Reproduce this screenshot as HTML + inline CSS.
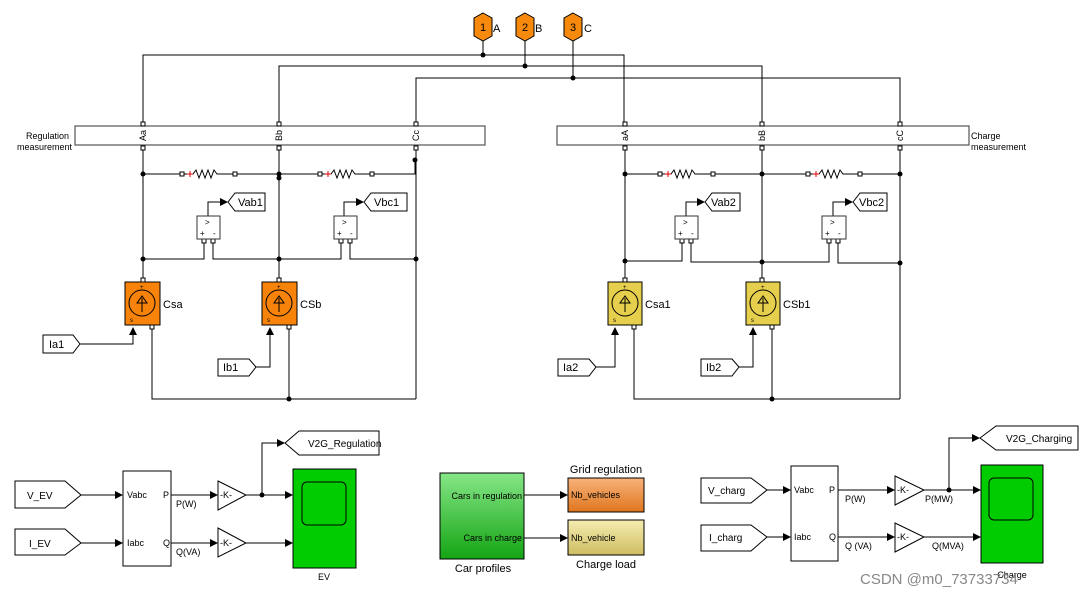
<!DOCTYPE html>
<html><head><meta charset="utf-8"><style>
html,body{margin:0;padding:0;background:#fff;}
svg{display:block;font-family:"Liberation Sans",Arial,sans-serif;}
</style></head><body>
<svg width="1080" height="596" viewBox="0 0 1080 596" xmlns="http://www.w3.org/2000/svg">
<defs>
<marker id="ar" markerWidth="8" markerHeight="8" refX="7" refY="4" orient="auto" markerUnits="userSpaceOnUse"><path d="M0,0 L8,4 L0,8 Z" fill="#000"/></marker>
<linearGradient id="gp" x1="0" y1="0" x2="0" y2="1"><stop offset="0" stop-color="#86e686"/><stop offset="1" stop-color="#14a514"/></linearGradient>
<linearGradient id="go" x1="0" y1="0" x2="0" y2="1"><stop offset="0" stop-color="#f7b27a"/><stop offset="1" stop-color="#e0761e"/></linearGradient>
<linearGradient id="gy" x1="0" y1="0" x2="0" y2="1"><stop offset="0" stop-color="#f5ecb0"/><stop offset="1" stop-color="#cfbd62"/></linearGradient>
</defs>
<g fill="none" stroke="#000" stroke-width="1">
<polyline points="143,124 143,55 624,55 624,124"/>
<polyline points="279,124 279,66 762,66 762,124"/>
<polyline points="416,124 416,78 900,78 900,124"/>
<line x1="483" y1="41" x2="483" y2="55"/>
<line x1="525" y1="41" x2="525" y2="66"/>
<line x1="573" y1="41" x2="573" y2="78"/>
<line x1="143" y1="147" x2="143" y2="280"/>
<line x1="279" y1="147" x2="279" y2="280"/>
<line x1="416" y1="147" x2="416" y2="399"/>
<line x1="143" y1="174" x2="182" y2="174"/>
<polyline points="184,174 193,174 196,170 199,178 202,170 205,178 208,170 211,178 214,170 217,174 233,174"/>
<line x1="235" y1="174" x2="320" y2="174"/>
<polyline points="322,174 331,174 334,170 337,178 340,170 343,178 346,170 349,178 352,170 355,174 370,174"/>
<polyline points="372,174 415,174 415,160"/>
<polyline points="208,216 208,202 227,202" marker-end="url(#ar)"/>
<polyline points="344,216 344,202 363,202" marker-end="url(#ar)"/>
<polyline points="204,242 204,259 143,259"/>
<polyline points="213,242 213,259 341,259 341,242"/>
<polyline points="350,242 350,259 416,259"/>
<polyline points="80,344 133,344 133,328" marker-end="url(#ar)"/>
<polyline points="256,367 270,367 270,328" marker-end="url(#ar)"/>
<polyline points="152,327 152,399 416,399"/>
<line x1="289" y1="327" x2="289" y2="399"/>
<line x1="625" y1="147" x2="625" y2="280"/>
<line x1="762" y1="147" x2="762" y2="280"/>
<line x1="900" y1="147" x2="900" y2="399"/>
<line x1="625" y1="174" x2="660" y2="174"/>
<polyline points="662,174 671,174 674,170 677,178 680,170 683,178 686,170 689,178 692,170 695,174 711,174"/>
<line x1="713" y1="174" x2="808" y2="174"/>
<polyline points="810,174 819,174 822,170 825,178 828,170 831,178 834,170 837,178 840,170 843,174 858,174"/>
<line x1="860" y1="174" x2="900" y2="174"/>
<polyline points="686,216 686,202 704,202" marker-end="url(#ar)"/>
<polyline points="833,216 833,202 852,202" marker-end="url(#ar)"/>
<polyline points="682,242 682,261 625,261"/>
<polyline points="691,242 691,262 829,262 829,242"/>
<polyline points="838,242 838,263 900,263"/>
<polyline points="596,367 615,367 615,328" marker-end="url(#ar)"/>
<polyline points="739,367 753,367 753,328" marker-end="url(#ar)"/>
<polyline points="634,327 634,399 900,399"/>
<line x1="772" y1="327" x2="772" y2="399"/>
<line x1="81" y1="495" x2="122" y2="495" marker-end="url(#ar)"/>
<line x1="81" y1="543" x2="122" y2="543" marker-end="url(#ar)"/>
<line x1="171" y1="495" x2="217" y2="495" marker-end="url(#ar)"/>
<line x1="171" y1="543" x2="217" y2="543" marker-end="url(#ar)"/>
<line x1="246" y1="495" x2="292" y2="495" marker-end="url(#ar)"/>
<line x1="246" y1="543" x2="292" y2="543" marker-end="url(#ar)"/>
<polyline points="262,495 262,443 284,443" marker-end="url(#ar)"/>
<line x1="524" y1="495" x2="567" y2="495" marker-end="url(#ar)"/>
<line x1="524" y1="538" x2="567" y2="538" marker-end="url(#ar)"/>
<line x1="767" y1="490" x2="790" y2="490" marker-end="url(#ar)"/>
<line x1="767" y1="537" x2="790" y2="537" marker-end="url(#ar)"/>
<line x1="838" y1="490" x2="894" y2="490" marker-end="url(#ar)"/>
<line x1="838" y1="537" x2="894" y2="537" marker-end="url(#ar)"/>
<line x1="924" y1="490" x2="980" y2="490" marker-end="url(#ar)"/>
<line x1="924" y1="537" x2="980" y2="537" marker-end="url(#ar)"/>
<polyline points="949,490 949,438 979,438" marker-end="url(#ar)"/>
</g>
<g stroke="#e00000" stroke-width="1">
<path d="M187,174h6M190,171v6M325,174h6M328,171v6M665,174h6M668,171v6M813,174h6M816,171v6"/>
</g>
<g fill="#000">
<circle cx="483" cy="55" r="2.5"/><circle cx="525" cy="66" r="2.5"/><circle cx="573" cy="78" r="2.5"/>
<circle cx="143" cy="174" r="2.5"/><circle cx="279" cy="174" r="2.5"/><circle cx="279" cy="178" r="2.5"/><circle cx="415" cy="160" r="2.5"/>
<circle cx="143" cy="259" r="2.5"/><circle cx="279" cy="259" r="2.5"/><circle cx="416" cy="259" r="2.5"/><circle cx="289" cy="399" r="2.5"/>
<circle cx="625" cy="174" r="2.5"/><circle cx="762" cy="174" r="2.5"/><circle cx="900" cy="174" r="2.5"/>
<circle cx="625" cy="261" r="2.5"/><circle cx="762" cy="262" r="2.5"/><circle cx="900" cy="263" r="2.5"/><circle cx="772" cy="399" r="2.5"/>
<circle cx="262" cy="495" r="2.5"/><circle cx="949" cy="490" r="2.5"/>
</g>
<g fill="#fff" stroke="#555" stroke-width="1.2">
<rect x="75" y="126" width="410" height="19"/>
<rect x="557" y="126" width="412" height="19"/>
</g>
<g fill="#fff" stroke="#000" stroke-width="1">
<rect x="141" y="122" width="4" height="4"/><rect x="277" y="122" width="4" height="4"/><rect x="414" y="122" width="4" height="4"/>
<rect x="141" y="146" width="4" height="4"/><rect x="277" y="146" width="4" height="4"/><rect x="414" y="146" width="4" height="4"/>
<rect x="623" y="122" width="4" height="4"/><rect x="760" y="122" width="4" height="4"/><rect x="898" y="122" width="4" height="4"/>
<rect x="623" y="146" width="4" height="4"/><rect x="760" y="146" width="4" height="4"/><rect x="898" y="146" width="4" height="4"/>
<rect x="180" y="172" width="4" height="4"/><rect x="233" y="172" width="4" height="4"/><rect x="318" y="172" width="4" height="4"/><rect x="370" y="172" width="4" height="4"/>
<rect x="658" y="172" width="4" height="4"/><rect x="711" y="172" width="4" height="4"/><rect x="806" y="172" width="4" height="4"/><rect x="858" y="172" width="4" height="4"/>
<rect x="202" y="239" width="4" height="4"/><rect x="211" y="239" width="4" height="4"/><rect x="339" y="239" width="4" height="4"/><rect x="348" y="239" width="4" height="4"/>
<rect x="680" y="239" width="4" height="4"/><rect x="689" y="239" width="4" height="4"/><rect x="827" y="239" width="4" height="4"/><rect x="836" y="239" width="4" height="4"/>
<rect x="141" y="278" width="4" height="4"/><rect x="277" y="278" width="4" height="4"/><rect x="150" y="325" width="4" height="4"/><rect x="287" y="325" width="4" height="4"/>
<rect x="623" y="278" width="4" height="4"/><rect x="760" y="278" width="4" height="4"/><rect x="632" y="325" width="4" height="4"/><rect x="770" y="325" width="4" height="4"/>
</g>
<g font-size="9" fill="#000">
<text transform="translate(146,141) rotate(-90)">Aa</text>
<text transform="translate(282,141) rotate(-90)">Bb</text>
<text transform="translate(419,141) rotate(-90)">Cc</text>
<text transform="translate(628,141) rotate(-90)">aA</text>
<text transform="translate(765,141) rotate(-90)">bB</text>
<text transform="translate(903,141) rotate(-90)">cC</text>
<text x="69" y="139" text-anchor="end">Regulation</text>
<text x="72" y="150" text-anchor="end">measurement</text>
<text x="971" y="139">Charge</text>
<text x="971" y="150">measurement</text>
</g>
<g stroke="#000" stroke-width="1" fill="#f78a0c">
<polygon points="483,13 492,18 492,36 483,41 474,36 474,18"/>
<polygon points="525,13 534,18 534,36 525,41 516,36 516,18"/>
<polygon points="573,13 582,18 582,36 573,41 564,36 564,18"/>
</g>
<g font-size="11" fill="#000">
<text x="483" y="31" text-anchor="middle">1</text><text x="525" y="31" text-anchor="middle">2</text><text x="573" y="31" text-anchor="middle">3</text>
<text x="493" y="32">A</text><text x="535" y="32">B</text><text x="584" y="32">C</text>
</g>
<g fill="#fff" stroke="#333" stroke-width="1">
<rect x="197" y="216" width="23" height="23"/><rect x="334" y="216" width="23" height="23"/>
<rect x="675" y="216" width="23" height="23"/><rect x="822" y="216" width="24" height="23"/>
</g>
<g font-size="8" fill="#000">
<text x="205" y="225">&gt;</text><text x="200" y="236">+</text><text x="213" y="236">-</text>
<text x="342" y="225">&gt;</text><text x="337" y="236">+</text><text x="350" y="236">-</text>
<text x="683" y="225">&gt;</text><text x="678" y="236">+</text><text x="691" y="236">-</text>
<text x="830" y="225">&gt;</text><text x="825" y="236">+</text><text x="838" y="236">-</text>
</g>
<g fill="#fff" stroke="#000" stroke-width="1">
<polygon points="228,202 235,193 265,193 265,211 235,211"/>
<polygon points="364,202 371,193 407,193 407,211 371,211"/>
<polygon points="705,202 712,193 740,193 740,211 712,211"/>
<polygon points="853,202 860,193 887,193 887,211 860,211"/>
<polygon points="43,335 73,335 80,344 73,353 43,353"/>
<polygon points="218,359 249,359 256,367 249,376 218,376"/>
<polygon points="558,359 589,359 596,367 589,376 558,376"/>
<polygon points="701,359 732,359 739,367 732,376 701,376"/>
<polygon points="15,481 65,481 81,495 65,508 15,508"/>
<polygon points="15,529 65,529 81,543 65,555 15,555"/>
<polygon points="285,443 299,431 379,431 379,455 299,455"/>
<polygon points="701,478 751,478 767,490 751,503 701,503"/>
<polygon points="701,525 751,525 767,537 751,551 701,551"/>
<polygon points="980,438 996,426 1078,426 1078,450 996,450"/>
</g>
<g font-size="11" fill="#000">
<text x="238" y="206">Vab1</text><text x="374" y="206">Vbc1</text>
<text x="711" y="206">Vab2</text><text x="859" y="206">Vbc2</text>
<text x="49" y="348">Ia1</text><text x="223" y="371">Ib1</text>
<text x="563" y="371">Ia2</text><text x="706" y="371">Ib2</text>
<text x="27" y="499" font-size="10">V_EV</text><text x="29" y="547" font-size="10">I_EV</text>
<text x="308" y="447" font-size="10">V2G_Regulation</text>
<text x="708" y="494" font-size="10">V_charg</text><text x="709" y="541" font-size="10">I_charg</text>
<text x="1006" y="442" font-size="10">V2G_Charging</text>
</g>
<g stroke="#000" stroke-width="1">
<rect x="125" y="282" width="35" height="43" fill="#f7830a"/>
<rect x="262" y="282" width="35" height="43" fill="#f7830a"/>
<rect x="608" y="282" width="34" height="43" fill="#e6cf4c"/>
<rect x="746" y="282" width="34" height="43" fill="#e6cf4c"/>
<g fill="none">
<circle cx="142" cy="303" r="13"/><path d="M142,312V298M137,303L142,296L147,303Z"/>
<circle cx="279" cy="303" r="13"/><path d="M279,312V298M274,303L279,296L284,303Z"/>
<circle cx="625" cy="303" r="13"/><path d="M625,312V298M620,303L625,296L630,303Z"/>
<circle cx="763" cy="303" r="13"/><path d="M763,312V298M758,303L763,296L768,303Z"/>
</g>
</g>
<g font-size="6" fill="#000">
<text x="140" y="289">+</text><text x="277" y="289">+</text><text x="623" y="289">+</text><text x="761" y="289">+</text>
<text x="130" y="322">s</text><text x="267" y="322">s</text><text x="613" y="322">s</text><text x="751" y="322">s</text>
</g>
<g font-size="11" fill="#000">
<text x="163" y="308">Csa</text><text x="300" y="308">CSb</text>
<text x="645" y="308">Csa1</text><text x="783" y="308">CSb1</text>
</g>
<g fill="#fff" stroke="#000" stroke-width="1">
<rect x="123" y="471" width="48" height="95"/>
<rect x="791" y="466" width="47" height="95"/>
<polygon points="218,481 246,495 218,510"/><polygon points="218,528 246,543 218,557"/>
<polygon points="895,476 924,490 895,505"/><polygon points="895,523 924,537 895,552"/>
</g>
<g font-size="9" fill="#000">
<text x="127" y="498">Vabc</text><text x="127" y="546">Iabc</text>
<text x="163" y="498">P</text><text x="163" y="546">Q</text>
<text x="176" y="507">P(W)</text><text x="176" y="555">Q(VA)</text>
<text x="220" y="498">-K-</text><text x="220" y="546">-K-</text>
<text x="794" y="493">Vabc</text><text x="794" y="540">Iabc</text>
<text x="829" y="493">P</text><text x="829" y="540">Q</text>
<text x="845" y="502">P(W)</text><text x="845" y="549">Q (VA)</text>
<text x="897" y="493">-K-</text><text x="897" y="540">-K-</text>
<text x="925" y="502">P(MW)</text><text x="932" y="549">Q(MVA)</text>
</g>
<g stroke="#000" stroke-width="1">
<rect x="293" y="469" width="63" height="99" fill="#00cc00"/>
<rect x="302" y="482" width="44" height="43" rx="5" fill="#00cc00"/>
<rect x="981" y="465" width="62" height="98" fill="#00cc00"/>
<rect x="989" y="478" width="44" height="42" rx="5" fill="#00cc00"/>
<rect x="440" y="473" width="84" height="86" fill="url(#gp)"/>
<rect x="568" y="478" width="76" height="34" fill="url(#go)"/>
<rect x="568" y="520" width="76" height="35" fill="url(#gy)"/>
</g>
<g font-size="9" fill="#000">
<text x="324" y="580" text-anchor="middle">EV</text>
<text x="1012" y="578" text-anchor="middle">Charge</text>
<text x="522" y="499" text-anchor="end">Cars in regulation</text>
<text x="522" y="541" text-anchor="end">Cars in charge</text>
<text x="571" y="498">Nb_vehicles</text>
<text x="571" y="541">Nb_vehicle</text>
</g>
<g font-size="11" fill="#000">
<text x="483" y="572" text-anchor="middle">Car profiles</text>
<text x="606" y="473" text-anchor="middle">Grid regulation</text>
<text x="606" y="568" text-anchor="middle">Charge load</text>
</g>
<text x="860" y="584" font-size="15" fill="#888">CSDN @m0_73733734</text>
</svg>
</body></html>
